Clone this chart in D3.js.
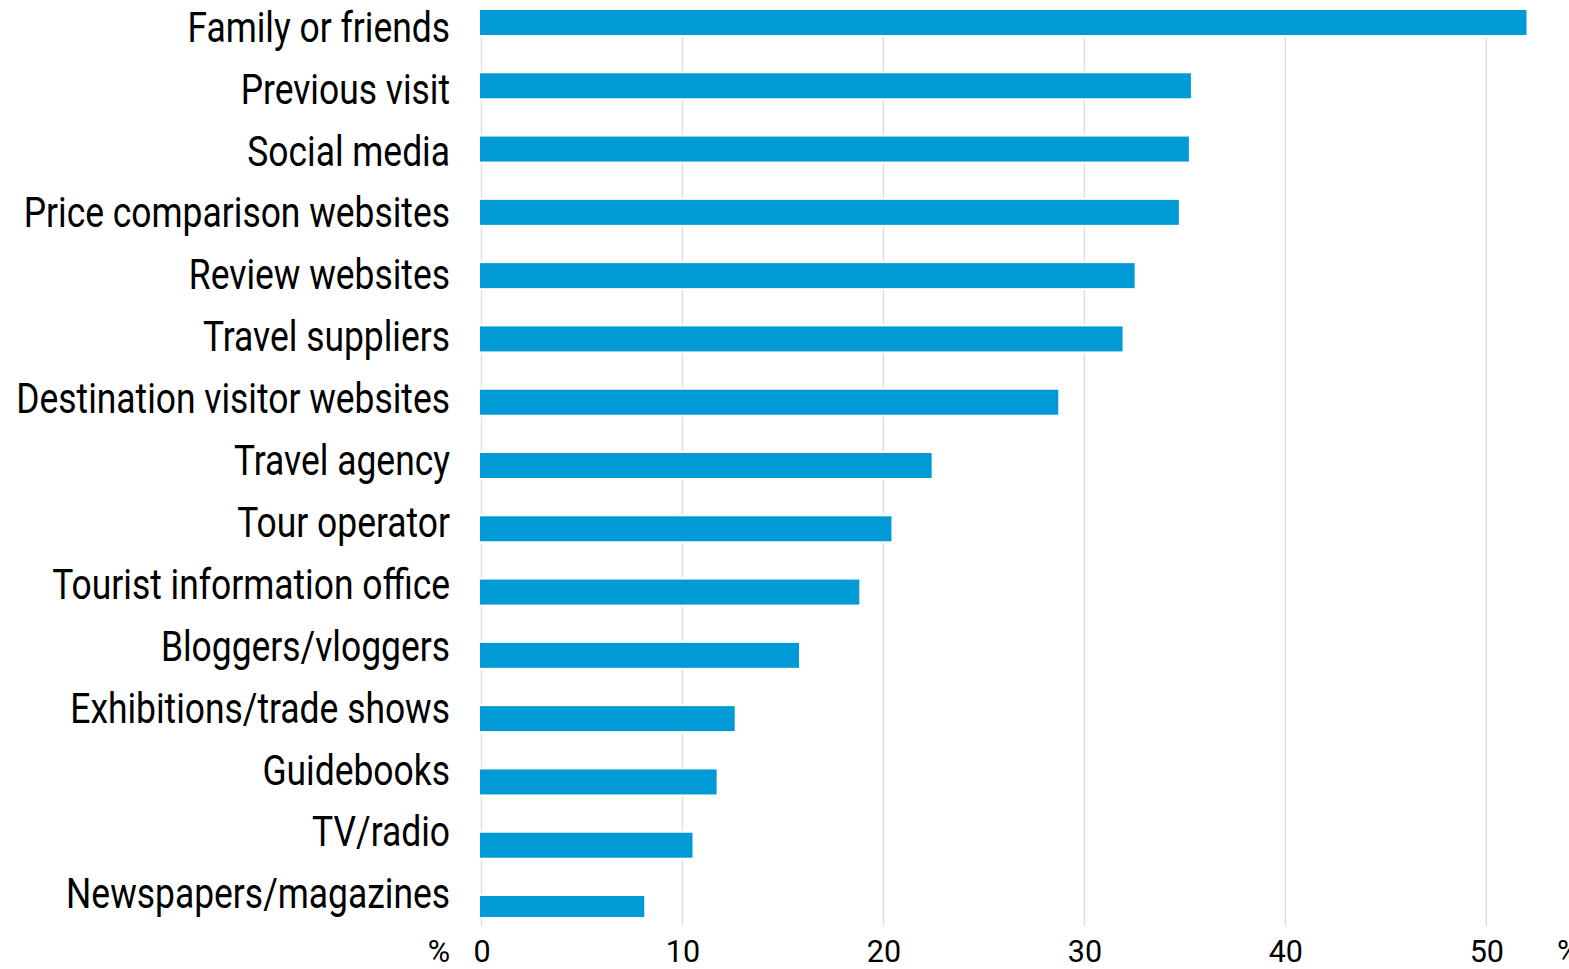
<!DOCTYPE html>
<html>
<head>
<meta charset="utf-8">
<script src="https://cdn.jsdelivr.net/npm/d3@7"></script>
<style>
  html, body { margin: 0; padding: 0; background: #ffffff; }
  svg { display: block; }
  text { font-family: Roboto, "Noto Sans", sans-serif; fill: #000; }
</style>
</head>
<body>
<script>
// Information sources used when planning a trip (% of respondents)
const categories = [
  "Family or friends",
  "Previous visit",
  "Social media",
  "Price comparison websites",
  "Review websites",
  "Travel suppliers",
  "Destination visitor websites",
  "Travel agency",
  "Tour operator",
  "Tourist information office",
  "Bloggers/vloggers",
  "Exhibitions/trade shows",
  "Guidebooks",
  "TV/radio",
  "Newspapers/magazines"
];
const values = [52.0, 35.3, 35.2, 34.7, 32.5, 31.9, 28.7, 22.4, 20.4, 18.8, 15.8, 12.6, 11.7, 10.5, 8.1];
const xTicks = [0, 10, 20, 30, 40, 50];
const unitLabel = "%";

const W = 1569, H = 969;
const svg = d3.select("body").append("svg").attr("width", W).attr("height", H);

// horizontal value scale
const x = d3.scaleLinear().domain([0, 54]).range([481.5, 481.5 + 54 * 20.096]);

// bar rows
const yBar = d3.scaleBand().domain(categories).range([10, 921])
  .paddingInner(0.605).paddingOuter(0).align(0);

// category labels sit on their own evenly spaced baselines
const yLab = d3.scalePoint().domain(categories).range([41.7, 908.3]);

// vertical gridlines
svg.append("g").selectAll("line").data(xTicks).join("line")
  .attr("x1", d => x(d)).attr("x2", d => x(d))
  .attr("y1", 10).attr("y2", 925.7)
  .attr("stroke", "#dedcd6").attr("stroke-width", 1.3);

// bars (white outline leaves a small gap in the gridlines)
svg.append("clipPath").attr("id", "plotClip")
  .append("rect").attr("x", 0).attr("y", 0).attr("width", W).attr("height", 917);

svg.append("g").attr("clip-path", "url(#plotClip)")
  .selectAll("rect").data(values).join("rect")
  .attr("x", x(0) - 1.5)
  .attr("y", (d, i) => yBar(categories[i]))
  .attr("width", d => x(d) - x(0) + 1.5)
  .attr("height", yBar.bandwidth())
  .attr("fill", "#009bd6")
  .attr("stroke", "#ffffff")
  .attr("stroke-width", 4)
  .style("paint-order", "stroke fill");

// category labels, condensed to fit the label column
const labG = svg.append("g");
const labels = labG.selectAll("text").data(categories).join("text")
  .attr("text-anchor", "end")
  .attr("font-size", 43)
  .text(d => d);
let widest = 0;
labels.each(function () { widest = Math.max(widest, this.getComputedTextLength()); });
const sx = 434 / widest;
labels.attr("transform", d => `translate(450,${yLab(d)}) scale(${sx},1)`);

// x axis tick labels
const axis = d3.axisBottom(x).tickValues(xTicks).tickSize(0).tickPadding(0).tickFormat(d3.format("d"));
const axG = svg.append("g").attr("transform", "translate(0,0)").call(axis);
axG.select(".domain").remove();
axG.selectAll("text")
  .attr("y", 961.5).attr("dy", null)
  .attr("font-size", 30.5)
  .attr("font-family", "Roboto, sans-serif")
  .attr("fill", "#000");

// unit markers at both ends of the axis
svg.append("text").attr("x", 450).attr("y", 961.5).attr("text-anchor", "end")
  .attr("font-size", 30.5).text(unitLabel);
svg.append("text").attr("x", 1557).attr("y", 961.5).attr("text-anchor", "start")
  .attr("font-size", 30.5).text(unitLabel);
</script>
</body>
</html>
